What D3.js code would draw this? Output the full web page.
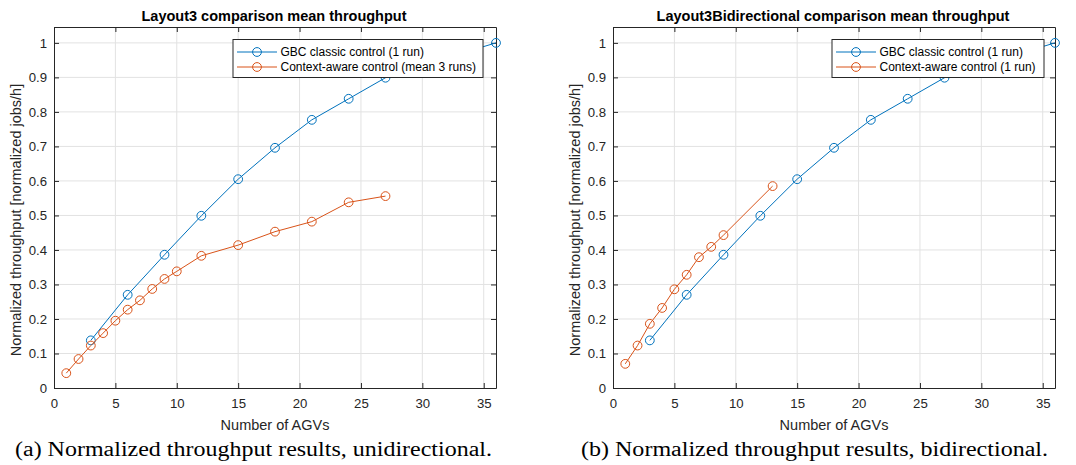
<!DOCTYPE html>
<html>
<head>
<meta charset="utf-8">
<script src="https://cdn.jsdelivr.net/npm/d3@7"></script>
<style>
  body { margin: 0; background: #fff; }
  svg { display: block; }
</style>
</head>
<body>
<script>
// data
const gbcX = [3, 6, 9, 12, 15, 18, 21, 24, 27, 30, 33, 36];
const gbcY = [0.138, 0.27, 0.386, 0.499, 0.605, 0.696, 0.777, 0.838, 0.899, 0.94, 0.968, 1.0];

const uniX = [1, 2, 3, 4, 5, 6, 7, 8, 9, 10, 12, 15, 18, 21, 24, 27];
const uniY = [0.043, 0.084, 0.123, 0.159, 0.195, 0.227, 0.254, 0.287, 0.316, 0.338, 0.383, 0.414, 0.453, 0.482, 0.538, 0.556];

const biX = [1, 2, 3, 4, 5, 6, 7, 8, 9, 13];
const biY = [0.07, 0.123, 0.186, 0.232, 0.286, 0.328, 0.379, 0.409, 0.443, 0.585];

const xTicks = [0, 5, 10, 15, 20, 25, 30, 35];
const yTicks = [0, 0.1, 0.2, 0.3, 0.4, 0.5, 0.6, 0.7, 0.8, 0.9, 1];

const panels = [
  {
    left: 54, title: "Layout3 comparison mean throughput",
    caption: "(a) Normalized throughput results, unidirectional.",
    capX: 253.5, capW: 477,
    series: [
      { name: "GBC classic control (1 run)", xs: gbcX, ys: gbcY, color: "#0072BD" },
      { name: "Context-aware control (mean 3 runs)", xs: uniX, ys: uniY, color: "#D95319" }
    ],
    legend: { x: 233, w: 250 }
  },
  {
    left: 613, title: "Layout3Bidirectional comparison mean throughput",
    caption: "(b) Normalized throughput results, bidirectional.",
    capX: 814.5, capW: 467,
    series: [
      { name: "GBC classic control (1 run)", xs: gbcX, ys: gbcY, color: "#0072BD" },
      { name: "Context-aware control (1 run)", xs: biX, ys: biY, color: "#D95319" }
    ],
    legend: { x: 832, w: 212 }
  }
];

const W = 1076, H = 465;
const plotW = 442, plotTop = 27, plotBottom = 388;
const axisColor = "#262626";
const font = "'Liberation Sans', Arial, Helvetica, sans-serif";

const svg = d3.select("body").append("svg")
  .attr("width", W).attr("height", H);

panels.forEach(p => {
  const x = d3.scaleLinear().domain([0, 36]).range([p.left, p.left + plotW]);
  const y = d3.scaleLinear().domain([0, 1.046]).range([plotBottom, plotTop]);
  const g = svg.append("g");

  // grid
  g.append("g").selectAll("line").data(xTicks.slice(1)).join("line")
    .attr("x1", d => x(d)).attr("x2", d => x(d))
    .attr("y1", plotTop).attr("y2", plotBottom)
    .attr("stroke", "#e2e2e2").attr("stroke-width", 1);
  g.append("g").selectAll("line").data(yTicks.slice(1)).join("line")
    .attr("x1", p.left).attr("x2", p.left + plotW)
    .attr("y1", d => y(d)).attr("y2", d => y(d))
    .attr("stroke", "#e2e2e2").attr("stroke-width", 1);

  // axes, ticks pointing inward on all four sides
  const fmtY = d => String(+d.toFixed(1));
  const ax = [
    [d3.axisBottom(x).tickValues(xTicks).tickFormat(d3.format("d")), `translate(0,${plotBottom})`, true, 11],
    [d3.axisTop(x).tickValues(xTicks), `translate(0,${plotTop})`, false, 0],
    [d3.axisLeft(y).tickValues(yTicks).tickFormat(fmtY), `translate(${p.left},0)`, true, 7],
    [d3.axisRight(y).tickValues(yTicks), `translate(${p.left + plotW},0)`, false, 0]
  ];
  ax.forEach(([a, t, labels, pad]) => {
    a.tickSizeInner(-5).tickSizeOuter(0).tickPadding(pad);
    const s = g.append("g").attr("transform", t).call(a);
    s.select(".domain").attr("stroke", axisColor);
    s.selectAll(".tick line").attr("stroke", axisColor);
    s.selectAll("text").attr("fill", axisColor)
      .style("font-family", font).style("font-size", "13.2px");
    if (!labels) s.selectAll("text").remove();
  });

  // series
  const line = d3.line().x(d => x(d[0])).y(d => y(d[1]));
  p.series.forEach(s => {
    const pts = d3.zip(s.xs, s.ys);
    g.append("path").datum(pts)
      .attr("d", line).attr("fill", "none")
      .attr("stroke", s.color).attr("stroke-width", 1);
    g.append("g").selectAll("circle").data(pts).join("circle")
      .attr("cx", d => x(d[0])).attr("cy", d => y(d[1])).attr("r", 4.4)
      .attr("fill", "none").attr("stroke", s.color).attr("stroke-width", 1);
  });

  // legend
  const lg = g.append("g").attr("transform", `translate(${p.legend.x},39.5)`);
  lg.append("rect").attr("width", p.legend.w).attr("height", 38)
    .attr("fill", "#fff").attr("stroke", axisColor).attr("stroke-width", 1);
  p.series.forEach((s, i) => {
    const yy = 12.5 + i * 15;
    lg.append("line").attr("x1", 4).attr("x2", 44).attr("y1", yy).attr("y2", yy)
      .attr("stroke", s.color).attr("stroke-width", 1);
    lg.append("circle").attr("cx", 24).attr("cy", yy).attr("r", 4.4)
      .attr("fill", "none").attr("stroke", s.color);
    lg.append("text").attr("x", 47.5).attr("y", yy).attr("dy", "0.35em")
      .attr("fill", "#000").style("font-family", font).style("font-size", "12px")
      .text(s.name);
  });

  // title & labels
  g.append("text").attr("x", p.left + plotW / 2 - 1).attr("y", 21)
    .attr("text-anchor", "middle").style("font-family", font)
    .style("font-size", "14.5px").style("font-weight", "bold").attr("fill", "#000")
    .text(p.title);
  g.append("text").attr("x", p.left + plotW / 2).attr("y", 430)
    .attr("text-anchor", "middle").style("font-family", font)
    .style("font-size", "14.5px").attr("fill", axisColor)
    .text("Number of AGVs");
  g.append("text")
    .attr("transform", `translate(${p.left - 33},220) rotate(-90)`)
    .attr("text-anchor", "middle").style("font-family", font)
    .style("font-size", "14.5px").attr("fill", axisColor)
    .text("Normalized throughput [normalized jobs/h]");
  g.append("text").attr("x", p.capX).attr("y", 456)
    .attr("text-anchor", "middle").style("font-family", "'Liberation Serif', 'DejaVu Serif', serif")
    .style("font-size", "20.5px").attr("fill", "#000")
    .attr("textLength", p.capW).attr("lengthAdjust", "spacingAndGlyphs")
    .text(p.caption);
});
</script>
</body>
</html>
